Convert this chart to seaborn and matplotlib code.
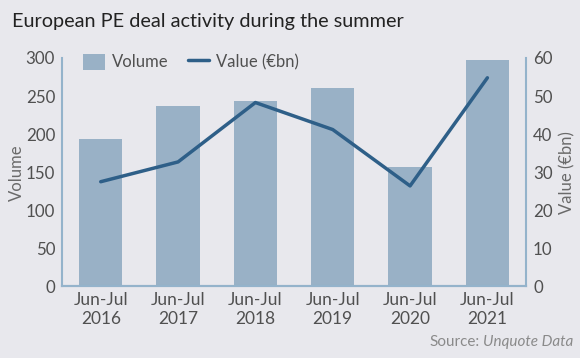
import matplotlib
matplotlib.use("Agg")
import matplotlib.pyplot as plt
import seaborn as sns
import pandas as pd
from matplotlib.patches import Patch
from matplotlib.lines import Line2D

categories = ["Jun-Jul\n2016", "Jun-Jul\n2017", "Jun-Jul\n2018", "Jun-Jul\n2019", "Jun-Jul\n2020", "Jun-Jul\n2021"]
volume = [193, 237, 243, 261, 157, 297]
value_bn = [27.5, 32.7, 48.3, 41.2, 26.4, 54.8]

sns.set_theme(style="white")
plt.rcParams['font.family'] = ['Lato', 'DejaVu Sans']

bg = "#e8e8ed"
bar_c = "#99b1c6"
line_c = "#2e5f88"
spine_c = "#94b3cb"
text_c = "#505050"

df = pd.DataFrame({"cat": categories, "volume": volume, "value": value_bn})

fig = plt.figure(figsize=(5.8, 3.58), dpi=100, facecolor=bg)
ax = fig.add_axes([0.107, 0.2, 0.8, 0.638])
ax.set_facecolor(bg)
sns.barplot(data=df, x="cat", y="volume", color=bar_c, width=0.56, ax=ax,
            saturation=1, linewidth=0, edgecolor="none")
ax2 = ax.twinx()
sns.lineplot(x=list(range(len(categories))), y=value_bn, color=line_c, lw=2.5, ax=ax2)

ax.set_xlim(-0.5, 5.5)
ax.set_ylim(0, 300)
ax2.set_ylim(0, 60)
ax.set_yticks(range(0, 301, 50))
ax2.set_yticks(range(0, 61, 10))
ax.set_xlabel("")
ax.set_ylabel("Volume", fontsize=12, color="#6a6a6a")
ax2.set_ylabel("Value (€bn)", fontsize=12, color="#6a6a6a")
ax.yaxis.set_label_coords(-0.08, 0.5)
ax2.yaxis.set_label_coords(1.072, 0.5)
for a in (ax, ax2):
    a.tick_params(axis="both", labelsize=12.2, colors=text_c, length=0, pad=5)
    a.spines["top"].set_visible(False)
    for s in ["left", "right", "bottom"]:
        a.spines[s].set_color(spine_c)
        a.spines[s].set_linewidth(1.5)
ax.tick_params(axis="x", pad=4, labelsize=12.5)
ax.spines["right"].set_visible(False)
ax2.spines["left"].set_visible(False)

handles = [Patch(facecolor=bar_c, edgecolor="none"), Line2D([0], [0], color=line_c, lw=2.5)]
leg = ax.legend(handles, ["Volume", "Value (€bn)"], loc="upper left", ncol=2, frameon=False,
                fontsize=12, bbox_to_anchor=(0.013, 1.085), handlelength=1.3, handleheight=1.1,
                handletextpad=0.42, columnspacing=1.15, labelcolor=text_c)

fig.text(0.02, 0.925, "European PE deal activity during the summer", fontsize=14.3, color="#222222")
fig.canvas.draw()
r = fig.canvas.get_renderer()
t2 = fig.text(0.988, 0.045, "Unquote Data", fontsize=11, color="#8a8a8a", style="italic",
              ha="right", va="center")
bb = t2.get_window_extent(renderer=r)
x0 = bb.x0 / fig.bbox.width
fig.text(x0 - 0.006, 0.045, "Source:", fontsize=11, color="#8a8a8a", ha="right", va="center")

fig.savefig("out.png", dpi=100, facecolor=bg)
